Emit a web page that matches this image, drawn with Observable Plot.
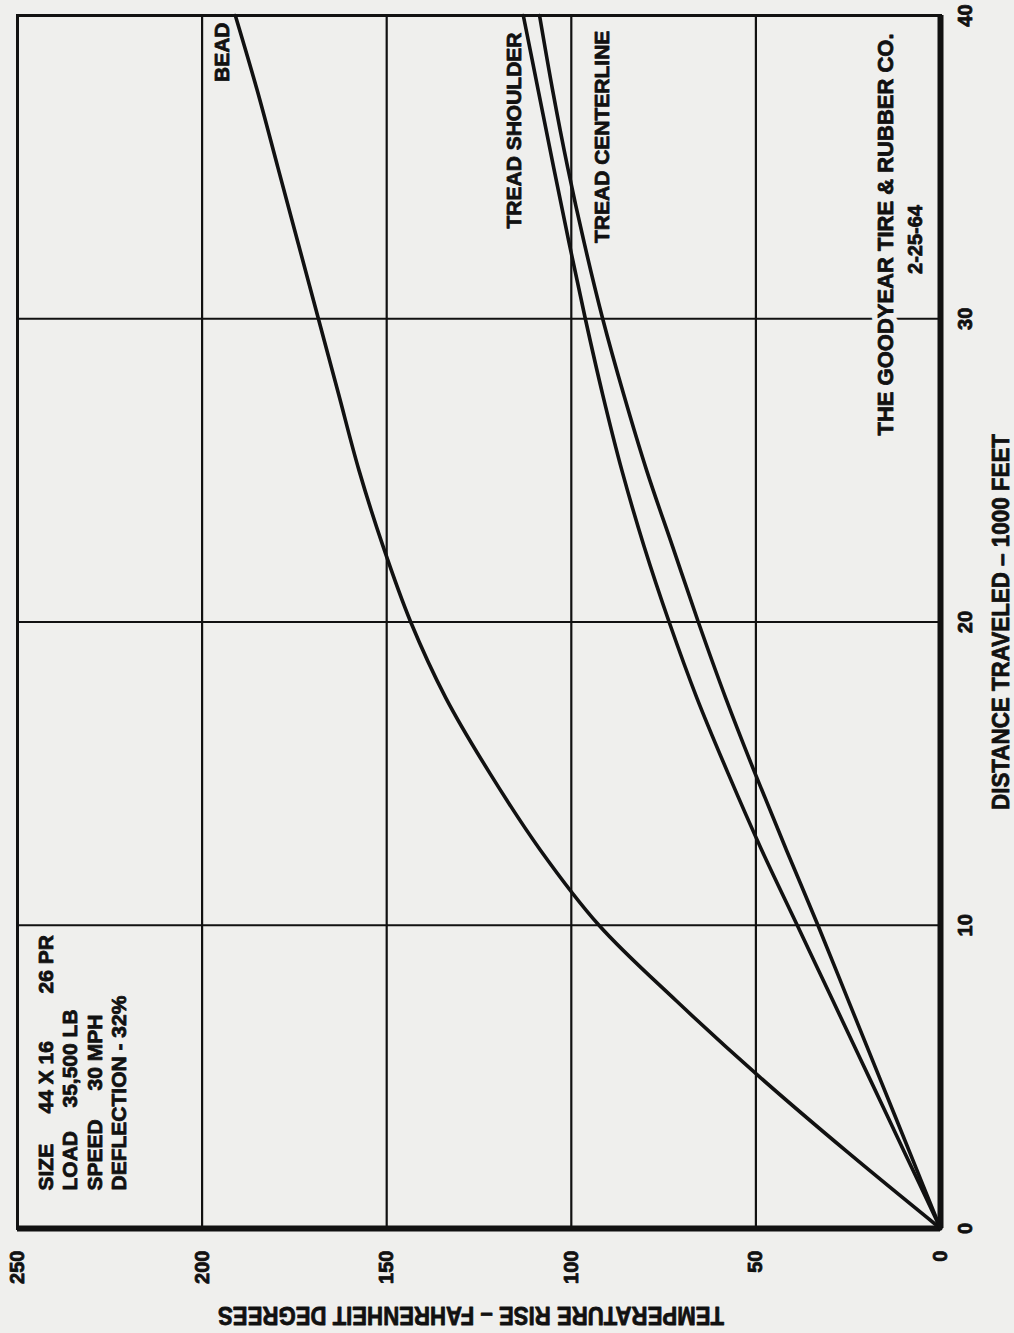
<!DOCTYPE html>
<html><head><meta charset="utf-8">
<script src="https://cdn.jsdelivr.net/npm/d3@7"></script>
<script src="https://cdn.jsdelivr.net/npm/@observablehq/plot@0.6"></script>
<style>
html,body{margin:0;padding:0;background:#efefed;overflow:hidden;}
#chart{width:1014px;height:1333px;}
</style></head><body><div id="chart"></div>
<script>
// Distance traveled (1000 ft) at which each curve was read
const distance = [0,2.5,5,7.5,10,12.5,15,17.5,20,22.5,25,27.5,30,32.5,35,37.5,40];
// Temperature rise (°F)
const beadTemp = [0,25,49,71.5,92.5,108.5,122,134,143.5,151,157.5,163,168.5,174,179.5,185,191];
const treadShoulderTemp = [0,9.7,19.4,29.1,38.8,48.5,57.5,66,73.5,80.3,86.3,91.5,96.2,100.6,104.8,108.9,113];
const treadCenterlineTemp = [0,8.3,16.6,24.9,33.2,41.8,50.2,58.2,65.6,72.6,79.6,85.8,91.5,96.5,101,105,108.6];
const seriesNames = ["BEAD","TREAD SHOULDER","TREAD CENTERLINE"];
const tempTicks = [0,50,100,150,200,250];
const distanceTicks = [0,10,20,30,40];
const xTitle = "DISTANCE TRAVELED \u2013 1000 FEET";
const yTitle = "TEMPERATURE RISE \u2013 FAHRENHEIT DEGREES";
const specLabels = ["SIZE","LOAD","SPEED","DEFLECTION - 32%"];
const specValues = ["44 X 16","35,500 LB","30 MPH"];
const specExtra = "26 PR";
const company = "THE GOODYEAR TIRE & RUBBER CO.";
const dateText = "2-25-64";

const seriesTemps = [beadTemp, treadShoulderTemp, treadCenterlineTemp];
const rows = [];
seriesNames.forEach((s, k) => distance.forEach((d, i) => rows.push({series: s, d, t: seriesTemps[k][i]})));

const BG = "#efefed";
const INK = "#111";
const FONT = "Liberation Sans, Arial, Helvetica, sans-serif";
const txt = (o) => Object.assign({fill: INK, stroke: INK, strokeWidth: 0.8, fontWeight: "bold", fontFamily: FONT, rotate: -90, lineAnchor: "middle"}, o);

// spec block text marks (rotated, inside frame at lower-left)
const specCentersDx = [29, 53, 78, 102];
const specMarks = [];
specLabels.forEach((s, i) => specMarks.push(Plot.text([s], txt({text: d => d, frameAnchor: "bottom-left", dx: specCentersDx[i], dy: -38, textAnchor: "start", fontSize: 21}))));
const valueDy = [-115, -121, -138];
specValues.forEach((s, i) => specMarks.push(Plot.text([s], txt({text: d => d, frameAnchor: "bottom-left", dx: specCentersDx[i], dy: valueDy[i], textAnchor: "start", fontSize: 21}))));
specMarks.push(Plot.text([specExtra], txt({text: d => d, frameAnchor: "bottom-left", dx: specCentersDx[0], dy: -235, textAnchor: "start", fontSize: 21})));

// curve labels placed in data space near the top of each curve
const curveLabels = [
  {label: seriesNames[0], t: 194.6, d: 39.77},
  {label: seriesNames[1], t: 115.5, d: 39.44},
  {label: seriesNames[2], t: 91.7, d: 39.5}
];

const plot = Plot.plot({
  width: 1014, height: 1333,
  marginLeft: 17, marginRight: 74, marginTop: 15, marginBottom: 105,
  style: {background: BG, fontFamily: FONT, color: INK},
  x: {domain: [0, 250], reverse: true, axis: null},
  y: {domain: [0, 40], axis: null},
  marks: [
    Plot.ruleX(tempTicks.filter(t => t > 0 && t < 250), {stroke: INK, strokeWidth: 2.2}),
    Plot.ruleY(distanceTicks.filter(t => t > 0 && t < 40), {stroke: INK, strokeWidth: 2.2}),
    Plot.frame({stroke: INK, strokeWidth: 3}),
    Plot.ruleX([0], {stroke: INK, strokeWidth: 6}),
    Plot.ruleY([0], {stroke: INK, strokeWidth: 6}),
    Plot.line(rows, {x: "t", y: "d", z: "series", curve: "catmull-rom", stroke: INK, strokeWidth: 3.6}),
    Plot.text(curveLabels, txt({x: "t", y: "d", text: "label", textAnchor: "end", fontSize: 21})),
    // company credit with a paper-coloured halo that breaks the grid line
    Plot.text([company], txt({text: d => d, frameAnchor: "top-right", dx: -55, dy: 219, textAnchor: "middle", fontSize: 22, fill: BG, stroke: BG, strokeWidth: 12})),
    Plot.text([company], txt({text: d => d, frameAnchor: "top-right", dx: -55, dy: 219, textAnchor: "middle", fontSize: 22})),
    Plot.text([dateText], txt({text: d => d, frameAnchor: "top-right", dx: -25, dy: 224, textAnchor: "middle", fontSize: 20})),
    ...specMarks,
    // tick labels
    Plot.text(tempTicks, txt({x: d => d, text: d => String(d), frameAnchor: "bottom", dy: 22, textAnchor: "end", fontSize: 20})),
    Plot.text(distanceTicks, txt({y: d => d, text: d => String(d), frameAnchor: "right", dx: 25, textAnchor: "middle", fontSize: 20})),
    // axis titles
    Plot.text([xTitle], txt({text: d => d, frameAnchor: "right", dx: 61, textAnchor: "middle", fontSize: 24})),
    Plot.text([yTitle], txt({text: d => d, frameAnchor: "bottom", dx: -8, dy: 86, rotate: 180, textAnchor: "middle", fontSize: 25}))
  ]
});

d3.select(plot).selectAll("text").each(function() {
  const t = this.textContent;
  if (t === xTitle) { this.setAttribute("textLength", 376); this.setAttribute("lengthAdjust", "spacingAndGlyphs"); }
  if (t === yTitle) { this.setAttribute("textLength", 506); this.setAttribute("lengthAdjust", "spacingAndGlyphs"); }
});

document.getElementById("chart").appendChild(plot);
</script></body></html>
